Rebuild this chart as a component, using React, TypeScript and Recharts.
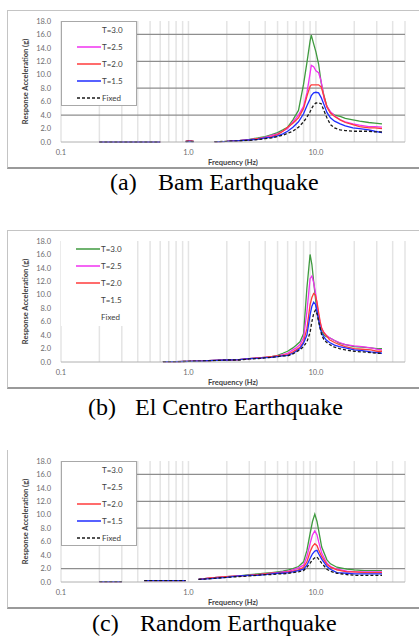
import { CartesianGrid, Line, LineChart, ReferenceLine, XAxis, YAxis } from "recharts";

const SERIES = [
  { key: "t30", name: "T=3.0", color: "#3f9a3f", dash: undefined },
  { key: "t25", name: "T=2.5", color: "#f032f0", dash: undefined },
  { key: "t20", name: "T=2.0", color: "#ff3b3b", dash: undefined },
  { key: "t15", name: "T=1.5", color: "#1f2dff", dash: undefined },
  { key: "fixed", name: "Fixed", color: "#1a1a1a", dash: "3 2" },
];

const xTicks = [0.1, 1, 10];
const yTicks = [0, 2, 4, 6, 8, 10, 12, 14, 16, 18];
const xGrid = [
  0.1, 0.2, 0.3, 0.4, 0.5, 0.6, 0.7, 0.8, 0.9, 1, 2, 3, 4, 5, 6, 7, 8, 9, 10, 20, 30, 40, 50,
];

// (a) Bam
const bamFreq = [0.2, 0.3, 0.4, 0.5, 0.6, 0.8, 0.95, 1.0, 1.1, 1.3, 1.6, 2.0, 2.5, 3.0, 3.5, 4.0, 4.5, 5.0, 5.5, 6.0, 6.6, 7.3, 8.0, 8.5, 9.0, 9.2, 9.6, 10.0, 10.5, 11.0, 11.6, 12.2, 13.0, 14.0, 15.5, 17.0, 19.5, 22.0, 26.0, 29.0, 33.0];
const bamT30 = [0, 0, 0, 0, 0, null, 0.1, 0.2, 0.1, null, 0.05, 0.1, 0.2, 0.4, 0.6, 0.8, 1.1, 1.4, 1.8, 2.2, 3.3, 4.7, 8.6, 11.8, 15.0, 15.9, 14.6, 13.4, 11.6, 8.8, 6.8, 5.3, 4.4, 4.0, 3.8, 3.5, 3.3, 3.1, 2.9, 2.8, 2.7];
const bamT25 = [0, 0, 0, 0, 0, null, 0.1, 0.15, 0.1, null, 0.05, 0.1, 0.2, 0.35, 0.5, 0.7, 1.0, 1.2, 1.6, 2.0, 3.0, 4.0, 5.3, 7.3, 10.2, 11.4, 11.2, 10.6, 10.3, 9.0, 6.4, 5.3, 4.5, 3.9, 3.3, 3.0, 2.7, 2.5, 2.3, 2.3, 2.2];
const bamT20 = [0, 0, 0, 0, 0, null, 0.1, 0.15, 0.1, null, 0.05, 0.1, 0.2, 0.3, 0.5, 0.6, 0.8, 1.1, 1.6, 2.2, 2.8, 3.6, 5.0, 6.8, 8.3, 8.5, 8.5, 8.5, 8.5, 8.2, 6.7, 5.2, 4.3, 3.8, 3.3, 2.9, 2.6, 2.3, 2.1, 2.1, 2.0];
const bamT15 = [0, 0, 0, 0, 0, null, 0.05, 0.1, 0.05, null, 0.05, 0.1, 0.2, 0.3, 0.4, 0.6, 0.7, 0.9, 1.2, 1.6, 2.2, 3.0, 4.2, 5.4, 6.4, 6.9, 7.3, 7.4, 7.3, 6.6, 5.5, 4.4, 3.6, 3.1, 2.7, 2.4, 2.1, 2.0, 1.8, 1.6, 1.4];
const bamFixed = [0, 0, 0, 0, 0, null, 0.05, 0.1, 0.05, null, 0.05, 0.1, 0.15, 0.25, 0.35, 0.5, 0.6, 0.8, 1.0, 1.3, 1.6, 2.2, 3.0, 3.7, 4.5, 4.9, 5.5, 5.8, 5.8, 5.7, 4.6, 3.6, 2.6, 2.1, 1.8, 1.7, 1.6, 1.6, 1.6, 1.5, 1.5];

// (b) El Centro
const elFreq = [0.63, 0.8, 1.0, 1.3, 1.6, 2.0, 2.5, 3.0, 3.5, 4.0, 4.5, 5.0, 5.5, 6.0, 6.6, 7.0, 7.5, 8.0, 8.5, 9.0, 9.3, 9.6, 9.9, 10.2, 10.5, 10.8, 11.1, 11.5, 12.0, 12.8, 14.0, 15.3, 17.0, 20.0, 23.0, 27.0, 30.0, 33.0];
const elT30 = [0.05, 0.05, 0.1, 0.15, 0.25, 0.3, 0.35, 0.5, 0.6, 0.7, 0.8, 1.0, 1.3, 1.6, 2.1, 2.5, 3.0, 4.2, 11.0, 16.0, 14.5, 12.0, 9.6, 7.5, 6.2, 5.2, 4.5, 4.1, 3.8, 3.6, 3.2, 2.8, 2.6, 2.3, 2.2, 2.1, 2.0, 2.0];
const elT25 = [0.05, 0.05, 0.1, 0.15, 0.25, 0.3, 0.35, 0.5, 0.6, 0.7, 0.8, 0.9, 1.1, 1.3, 1.8, 2.1, 2.6, 3.6, 7.5, 12.4, 12.8, 11.8, 10.4, 8.6, 7.0, 5.8, 5.0, 4.5, 4.0, 3.6, 3.2, 2.9, 2.6, 2.4, 2.3, 2.1, 1.9, 1.8];
const elT20 = [0.05, 0.05, 0.1, 0.15, 0.25, 0.3, 0.35, 0.5, 0.6, 0.7, 0.8, 0.9, 1.0, 1.1, 1.5, 1.8, 2.2, 3.0, 5.0, 8.5, 9.6, 10.2, 10.0, 8.9, 7.4, 6.0, 5.0, 4.4, 4.0, 3.3, 2.9, 2.6, 2.3, 2.0, 1.9, 1.8, 1.6, 1.6];
const elT15 = [0.05, 0.05, 0.1, 0.15, 0.25, 0.3, 0.35, 0.5, 0.55, 0.65, 0.7, 0.8, 0.9, 1.0, 1.3, 1.6, 2.0, 2.8, 4.0, 7.0, 8.3, 8.9, 8.6, 7.5, 6.3, 5.0, 4.3, 3.8, 3.3, 2.9, 2.5, 2.3, 2.1, 1.8, 1.7, 1.5, 1.4, 1.3];
const elFixed = [0.05, 0.05, 0.1, 0.15, 0.2, 0.3, 0.3, 0.45, 0.5, 0.6, 0.7, 0.8, 0.9, 0.9, 1.2, 1.5, 1.8, 2.3, 3.0, 4.4, 6.0, 7.2, 7.7, 7.2, 6.0, 5.0, 4.0, 3.4, 3.0, 2.6, 2.2, 2.0, 1.8, 1.6, 1.5, 1.4, 1.3, 1.3];

// (c) Random
const rnFreq = [0.2, 0.25, 0.3, 0.37, 0.45, 0.6, 0.8, 0.95, 1.05, 1.2, 1.5, 2.0, 2.5, 3.0, 3.5, 4.0, 4.5, 5.0, 5.5, 6.1, 6.6, 7.3, 8.0, 8.5, 9.0, 9.4, 9.8, 10.2, 10.5, 11.1, 12.2, 13.0, 14.6, 17.5, 20.0, 24.0, 28.0, 33.0];
const rnT30 = [0.05, 0.05, 0.05, null, 0.2, 0.2, 0.2, 0.2, null, 0.4, 0.6, 0.8, 0.9, 1.1, 1.2, 1.3, 1.4, 1.5, 1.6, 1.8, 2.0, 2.3, 3.0, 4.7, 7.2, 9.0, 10.1, 9.0, 7.7, 5.2, 3.3, 2.7, 2.2, 1.9, 1.8, 1.7, 1.7, 1.7];
const rnT25 = [0.05, 0.05, 0.05, null, 0.2, 0.2, 0.2, 0.2, null, 0.4, 0.6, 0.8, 0.9, 1.0, 1.1, 1.2, 1.3, 1.4, 1.5, 1.6, 1.8, 2.1, 2.5, 3.8, 5.7, 7.0, 7.6, 7.0, 6.0, 4.3, 2.8, 2.3, 1.9, 1.6, 1.5, 1.5, 1.5, 1.5];
const rnT20 = [0.05, 0.05, 0.05, null, 0.2, 0.2, 0.2, 0.2, null, 0.4, 0.6, 0.8, 0.9, 1.0, 1.1, 1.2, 1.3, 1.3, 1.4, 1.5, 1.6, 1.8, 2.2, 3.0, 4.5, 5.3, 5.7, 5.4, 4.8, 3.8, 2.6, 2.2, 1.8, 1.5, 1.5, 1.4, 1.4, 1.4];
const rnT15 = [0.05, 0.05, 0.05, null, 0.2, 0.2, 0.2, 0.2, null, 0.4, 0.5, 0.7, 0.9, 1.0, 1.0, 1.1, 1.2, 1.3, 1.3, 1.4, 1.5, 1.7, 1.9, 2.5, 3.5, 4.2, 4.6, 4.7, 4.2, 3.4, 2.3, 1.9, 1.4, 1.3, 1.2, 1.2, 1.2, 1.2];
const rnFixed = [0.05, 0.05, 0.05, null, 0.2, 0.2, 0.2, 0.2, null, 0.4, 0.5, 0.7, 0.8, 0.9, 1.0, 1.1, 1.1, 1.2, 1.2, 1.3, 1.4, 1.5, 1.7, 2.2, 2.8, 3.3, 3.6, 3.7, 3.4, 2.8, 1.9, 1.6, 1.3, 1.1, 1.0, 1.0, 1.0, 1.0];

function buildRows(freq: number[], cols: (number | null)[][]) {
  return freq.map((f, i) => {
    const row: Record<string, number | null> = { f };
    SERIES.forEach((s, j) => {
      row[s.key] = cols[j][i];
    });
    return row;
  });
}

const PANELS = [
  {
    top: 10,
    rows: buildRows(bamFreq, [bamT30, bamT25, bamT20, bamT15, bamFixed]),
    hGrid: [4, 8, 12, 16],
    legendLines: [false, true, true, true, true],
    legendBorder: true,
    topBorder: true,
    label: "(a)",
    title: "Bam Earthquake",
    labelX: 110,
    titleX: 158,
    captionTop: 170,
  },
  {
    top: 230,
    rows: buildRows(elFreq, [elT30, elT25, elT20, elT15, elFixed]),
    hGrid: [],
    legendLines: [true, true, true, false, false],
    legendBorder: false,
    topBorder: true,
    label: "(b)",
    title: "El Centro Earthquake",
    labelX: 88,
    titleX: 135,
    captionTop: 395,
  },
  {
    top: 450,
    rows: buildRows(rnFreq, [rnT30, rnT25, rnT20, rnT15, rnFixed]),
    hGrid: [2, 8, 12, 16],
    legendLines: [false, false, true, true, true],
    legendBorder: true,
    topBorder: false,
    label: "(c)",
    title: "Random Earthquake",
    labelX: 92,
    titleX: 140,
    captionTop: 611,
  },
];

const FONT = "Lato, 'Open Sans', sans-serif";
const tickStyle = { fontSize: 7.5, fill: "#6b6b6b", fontFamily: FONT };

function Panel({ p }: { p: (typeof PANELS)[number] }) {
  return (
    <>
      <div
        style={{
          position: "absolute",
          left: 7,
          top: p.top,
          width: 420,
          height: 159,
          boxSizing: "border-box",
          borderLeft: "1px solid #c4c4c4",
          borderTop: p.topBorder ? "1px solid #c4c4c4" : "none",
          borderBottom: "2px solid #9a9a9a",
        }}
      />
      <div style={{ position: "absolute", left: 7, top: p.top }}>
        <LineChart
          width={412}
          height={160}
          data={p.rows}
          margin={{ top: 11, right: 14, bottom: 0, left: 0 }}
        >
          {xGrid.map((v) => (
            <ReferenceLine
              key={v}
              x={v}
              stroke="#e4e4e4"
              strokeWidth={1.5}
              ifOverflow="extendDomain"
              zIndex={-100}
            />
          ))}
          {p.hGrid.length > 0 && (
            <CartesianGrid
              vertical={false}
              horizontalValues={p.hGrid}
              stroke="#8e8e8e"
              strokeWidth={1.3}
            />
          )}
          <XAxis
            dataKey="f"
            type="number"
            scale="log"
            domain={[0.1, 50]}
            allowDataOverflow
            ticks={xTicks}
            tickFormatter={(v) => Number(v).toFixed(1)}
            tick={tickStyle}
            tickLine={false}
            tickSize={0}
            tickMargin={8}
            axisLine={{ stroke: "#b0b0b0" }}
            height={28}
            label={{
              value: "Frequency (Hz)",
              position: "insideBottom",
              offset: 5,
              style: { fontSize: 7.5, fontWeight: 700, fill: "#404040", fontFamily: FONT },
            }}
          />
          <YAxis
            type="number"
            domain={[0, 18]}
            ticks={yTicks}
            interval={0}
            tickFormatter={(v) => Number(v).toFixed(1)}
            tick={tickStyle}
            tickLine={false}
            tickSize={0}
            tickMargin={10}
            axisLine={false}
            width={54}
            label={{
              value: "Response Acceleration (g)",
              angle: -90,
              position: "insideLeft",
              offset: 18,
              style: { fontSize: 7.5, fontWeight: 700, fill: "#404040", fontFamily: FONT, textAnchor: "middle" },
            }}
          />
          {SERIES.map((s) => (
            <Line
              key={s.key}
              dataKey={s.key}
              type="linear"
              stroke={s.color}
              strokeWidth={1.3}
              strokeDasharray={s.dash}
              dot={false}
              isAnimationActive={false}
            />
          ))}
        </LineChart>
      </div>
      <div
        style={{
          position: "absolute",
          left: 61,
          top: p.top + 11,
          width: 76,
          height: 85,
          boxSizing: "border-box",
          background: "#fff",
          border: p.legendBorder ? "1px solid #a8a8a8" : "none",
        }}
      >
        {SERIES.map((s, i) => (
          <div
            key={s.key}
            style={{ position: "absolute", left: 0, top: 8 + i * 17 - 6, height: 12, width: 76 }}
          >
            {p.legendLines[i] && (
              <svg width={24} height={12} style={{ position: "absolute", left: 15, top: 0 }}>
                <line
                  x1={0}
                  y1={6}
                  x2={24}
                  y2={6}
                  stroke={s.color}
                  strokeWidth={1.5}
                  strokeDasharray={s.dash}
                />
              </svg>
            )}
            <span
              style={{
                position: "absolute",
                left: 40,
                top: 0,
                lineHeight: "12px",
                fontSize: 8,
                color: "#404040",
                fontFamily: FONT,
              }}
            >
              {s.name}
            </span>
          </div>
        ))}
      </div>
      <span
        style={{
          position: "absolute",
          left: p.labelX,
          top: p.captionTop,
          fontFamily: "'Liberation Serif', 'Times New Roman', serif",
          fontSize: 24,
          lineHeight: "24px",
          color: "#000",
        }}
      >
        {p.label}
      </span>
      <span
        style={{
          position: "absolute",
          left: p.titleX,
          top: p.captionTop,
          fontFamily: "'Liberation Serif', 'Times New Roman', serif",
          fontSize: 24,
          lineHeight: "24px",
          color: "#000",
          whiteSpace: "nowrap",
        }}
      >
        {p.title}
      </span>
    </>
  );
}

export default function App() {
  return (
    <>
      <style>{`body{margin:0;background:#fff}`}</style>
      <div style={{ position: "relative", width: 419, height: 637, overflow: "hidden", background: "#fff" }}>
        {PANELS.map((p) => (
          <Panel key={p.label} p={p} />
        ))}
      </div>
    </>
  );
}
